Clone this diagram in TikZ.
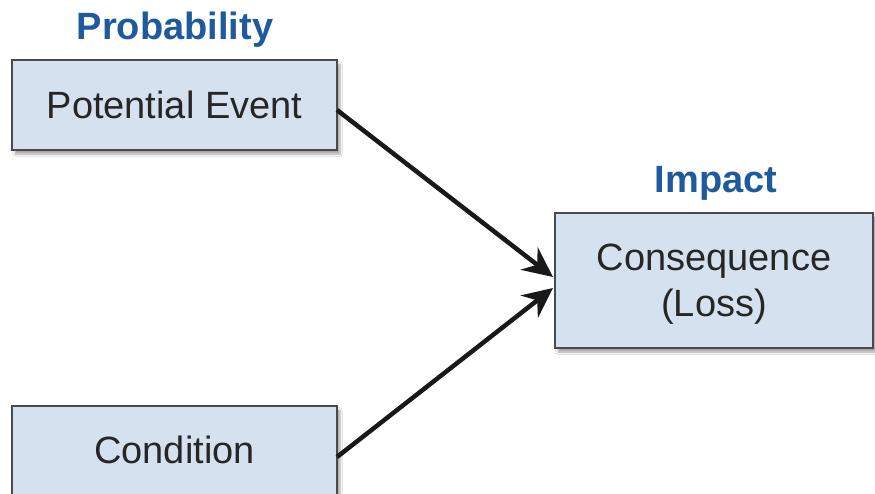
\documentclass[tikz,border=0pt]{standalone}
\usepackage{fontspec}
\setmainfont{Liberation Sans}
\usetikzlibrary{arrows.meta,shadows.blur}
\definecolor{boxfill}{HTML}{D6E1EF}
\definecolor{boxline}{HTML}{4A4A4A}
\definecolor{headblue}{HTML}{1F5A9C}
\begin{document}
\begin{tikzpicture}[x=1pt,y=-1pt,
  riskbox/.style={draw=boxline,line width=2pt,fill=boxfill,
    blur shadow={shadow xshift=3pt,shadow yshift=-4pt,shadow blur steps=6,shadow opacity=35}},
  boxtext/.style={font=\fontsize{38}{46}\selectfont,text=black!85,align=center},
  head/.style={font=\fontsize{38}{46}\selectfont\bfseries,text=headblue},
  conn/.style={line width=4.5pt,draw=black!90,-{Stealth[length=30pt,width=28pt,inset=10pt]}}]
\useasboundingbox (0,0) rectangle (875,493);
\fill[white] (0,0) rectangle (875,493);
% boxes
\path[riskbox] (12,60) rectangle (337,150);
\path[riskbox] (12,406) rectangle (337,520);
\path[riskbox] (555,213) rectangle (873,348);
\coordinate (pe) at (174.5,105);
\coordinate (co) at (174.5,450);
\coordinate (cq) at (714,284);
\node[boxtext] (pet) at (pe) {Potential Event};
\node[boxtext] (cot) at (co) {Condition};
\node[boxtext] (cqt) at (cq) {Consequence\\(Loss)};
\node[head] (prob) at (175,30) {Probability};
\node[head] (imp) at (716,183) {Impact};
\coordinate (peR) at (337,110);
\coordinate (coR) at (337,457);
\coordinate (t1) at (553,277);
\coordinate (t2) at (553,288);
\draw[conn] (peR) -- (t1);
\draw[conn] (coR) -- (t2);
\end{tikzpicture}
\end{document}
